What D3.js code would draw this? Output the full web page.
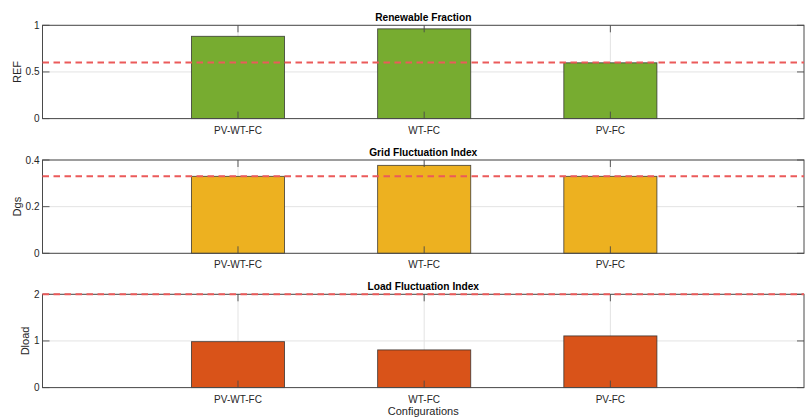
<!DOCTYPE html>
<html>
<head>
<meta charset="utf-8">
<script src="https://cdn.jsdelivr.net/npm/d3@7"></script>
<style>
  html, body { margin: 0; padding: 0; background: #fff; }
  svg { display: block; font-family: Arial, "Liberation Sans", Helvetica, sans-serif; }
</style>
</head>
<body>
<svg id="chart" width="809" height="417"></svg>
<script>
// Configurations compared in every panel
const configurations = ["PV-WT-FC", "WT-FC", "PV-FC"];

// Metric values per configuration
const renewableFraction = [0.882, 0.962, 0.598];
const gridFluctuation = [0.330, 0.377, 0.330];
const loadFluctuation = [0.985, 0.808, 1.108];

// Reference (threshold) levels shown as dashed lines
const thresholds = [0.6, 0.33, 2];

// Axis limits and tick labels
const yMax = [1, 0.4, 2];
const yTicks = [[0, 0.5, 1], [0, 0.2, 0.4], [0, 1, 2]];
const yLabels = ["REF", "Dgs", "Dload"];
const titles = ["Renewable Fraction", "Grid Fluctuation Index", "Load Fluctuation Index"];
const barColors = ["#77AC30", "#EDB120", "#D95319"];
const seriesValues = [renewableFraction, gridFluctuation, loadFluctuation];

const svg = d3.select("#chart");
const left = 42.5, right = 804;
const panelTops = [25.3, 160, 294.3];
const panelH = 93.3;
const textColor = "#262626";
const axisColor = "#4a4a4a";
const gridColor = "#e3e3e3";

// Category positions 1..3 on a numeric axis
const x = d3.scaleLinear().domain([-0.05, 4.04]).range([left, right]);
const xPos = (i) => x(i + 1);
const barW = x(0.5) - x(0);
const tickLen = 7;

panelTops.forEach((top, p) => {
  const bottom = top + panelH;
  const y = d3.scaleLinear().domain([0, yMax[p]]).range([bottom, top]);
  const g = svg.append("g");

  // grid lines
  g.selectAll(".hgrid").data(yTicks[p]).enter().append("line")
    .attr("x1", left).attr("x2", right)
    .attr("y1", d => y(d)).attr("y2", d => y(d))
    .attr("stroke", gridColor).attr("stroke-width", 1);
  g.selectAll(".vgrid").data(configurations).enter().append("line")
    .attr("x1", (d, i) => xPos(i)).attr("x2", (d, i) => xPos(i))
    .attr("y1", top).attr("y2", bottom)
    .attr("stroke", gridColor).attr("stroke-width", 1);

  // bars
  g.selectAll(".bar").data(seriesValues[p]).enter().append("rect")
    .attr("x", (d, i) => xPos(i) - barW / 2)
    .attr("width", barW)
    .attr("y", d => y(d))
    .attr("height", d => bottom - y(d))
    .attr("fill", barColors[p])
    .attr("stroke", "#2b2b2b")
    .attr("stroke-opacity", 0.8)
    .attr("stroke-width", 0.9);

  // x ticks (inside, bottom and top)
  configurations.forEach((c, i) => {
    const xx = xPos(i);
    g.append("line").attr("x1", xx).attr("x2", xx).attr("y1", bottom).attr("y2", bottom - tickLen)
      .attr("stroke", axisColor).attr("stroke-width", 0.9);
    g.append("line").attr("x1", xx).attr("x2", xx).attr("y1", top).attr("y2", top + tickLen)
      .attr("stroke", axisColor).attr("stroke-width", 0.9);
  });

  // y ticks (inside, left and right)
  yTicks[p].forEach(t => {
    g.append("line").attr("x1", left).attr("x2", left + tickLen).attr("y1", y(t)).attr("y2", y(t))
      .attr("stroke", axisColor).attr("stroke-width", 0.9);
    g.append("line").attr("x1", right).attr("x2", right - tickLen).attr("y1", y(t)).attr("y2", y(t))
      .attr("stroke", axisColor).attr("stroke-width", 0.9);
  });

  // axes box
  g.append("rect").attr("x", left).attr("y", top).attr("width", right - left).attr("height", panelH)
    .attr("fill", "none").attr("stroke", axisColor).attr("stroke-width", 1);

  // threshold line
  g.append("line")
    .attr("x1", left).attr("x2", right)
    .attr("y1", y(thresholds[p])).attr("y2", y(thresholds[p]))
    .attr("stroke", "#eb5a5a").attr("stroke-width", 2)
    .attr("stroke-dasharray", "6.5,4.5");

  // y tick labels
  const yLabelNodes = g.selectAll(".ytl").data(yTicks[p]).enter().append("text")
    .attr("x", left - 3).attr("y", d => y(d)).attr("dy", "0.35em")
    .attr("text-anchor", "end").attr("font-size", 10).attr("fill", textColor)
    .text(d => d3.format("~g")(d));
  let minX = left;
  yLabelNodes.each(function () { minX = Math.min(minX, this.getBBox().x); });

  // y axis label
  g.append("text")
    .attr("transform", `translate(${minX - 4.5},${(top + bottom) / 2}) rotate(-90)`)
    .attr("text-anchor", "middle").attr("font-size", 11).attr("fill", textColor)
    .text(yLabels[p]);

  // x tick labels
  g.selectAll(".xtl").data(configurations).enter().append("text")
    .attr("x", (d, i) => xPos(i)).attr("y", bottom + 15)
    .attr("text-anchor", "middle").attr("font-size", 10).attr("fill", textColor)
    .text(d => d);

  // title
  g.append("text")
    .attr("x", (left + right) / 2).attr("y", top - 4)
    .attr("text-anchor", "middle").attr("font-size", 10.2).attr("font-weight", "bold")
    .attr("fill", "#000").text(titles[p]);

  if (p === 2) {
    g.append("text")
      .attr("x", (left + right) / 2).attr("y", bottom + 27)
      .attr("text-anchor", "middle").attr("font-size", 11).attr("fill", textColor)
      .text("Configurations");
  }
});
</script>
</body>
</html>
